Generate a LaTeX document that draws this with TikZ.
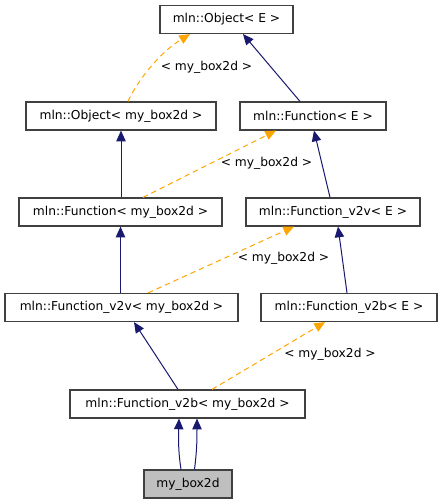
\documentclass[tikz,border=0pt]{standalone}
\usepackage{fontspec}
\setmainfont{DejaVu Sans}
\usetikzlibrary{arrows.meta,calc}
\definecolor{navy}{HTML}{191970}
\definecolor{dorange}{HTML}{FFA500}
\definecolor{boxline}{HTML}{404040}
\definecolor{boxfill}{HTML}{BFBFBF}
\begin{document}
\begin{tikzpicture}[x=0.75pt,y=-0.75pt,
  cls/.style={draw=boxline,line width=0.9pt,fill=white,inner sep=0pt,minimum height=21pt,font=\fontsize{9.2}{11}\selectfont},
  inh/.style={draw=navy,line width=0.75pt,-{Triangle[length=8pt,width=7pt]}},
  tmpl/.style={draw=dorange,line width=0.75pt,dash pattern=on 4pt off 3pt,-{Triangle[length=8pt,width=7pt]}},
  lbl/.style={font=\fontsize{9.2}{11}\selectfont,inner sep=0pt}]
\useasboundingbox[fill=white] (0,0) rectangle (443,504);
\node[cls,minimum width=99.75pt] (oE) at (226.5,19.5) {mln::Object< E >};
\node[cls,minimum width=142.5pt] (omy) at (121,116) {mln::Object< my\_box2d >};
\node[cls,minimum width=109.5pt] (fE) at (313,116) {mln::Function< E >};
\node[cls,minimum width=152.25pt] (fmy) at (120.5,212) {mln::Function< my\_box2d >};
\node[cls,minimum width=130.5pt] (fvE) at (333,212) {mln::Function\_v2v< E >};
\node[cls,minimum width=174.75pt] (fvmy) at (121.5,307.5) {mln::Function\_v2v< my\_box2d >};
\node[cls,minimum width=132pt] (fbE) at (349,307.5) {mln::Function\_v2b< E >};
\node[cls,minimum width=176.25pt] (fbmy) at (187.5,404) {mln::Function\_v2b< my\_box2d >};
\node[cls,fill=boxfill,minimum width=66pt] (my) at (188,484) {my\_box2d};
% blue inheritance
\draw[inh] ($(fE.north)+(-13,0)$) -- ($(oE.south)+(16.5,0)$);
\draw[inh] (fmy.north -| omy.south) -- (omy.south);
\draw[inh] ($(fvE.north)+(-3,0)$) -- ($(fE.south)+(1,0)$);
\draw[inh] (fvmy.north -| fmy.south) -- (fmy.south);
\draw[inh] ($(fbE.north)+(-2,0)$) -- ($(fvE.south)+(5,0)$);
\draw[inh] ($(fbmy.north)+(-9.5,0)$) -- ($(fvmy.south)+(12.5,0)$);
\draw[inh] ($(my.north)+(-7,0)$) .. controls ($(my.north)+(-10,-20)$) and ($(fbmy.south)+(-9,20)$) .. ($(fbmy.south)+(-8.5,0)$);
\draw[inh] ($(my.north)+(6.5,0)$) .. controls ($(my.north)+(9,-20)$) and ($(fbmy.south)+(9.5,20)$) .. ($(fbmy.south)+(9.5,0)$);
% orange template
\draw[tmpl] ($(omy.north)+(7,0)$) .. controls ($(omy.north)+(17,-22)$) and ($(oE.south)+(-66,18)$) .. ($(oE.south)+(-36.5,0)$);
\draw[tmpl] ($(fmy.north)+(22.5,0)$) -- ($(fE.south)+(-37,0)$);
\draw[tmpl] ($(fvmy.north)+(26.5,0)$) -- ($(fvE.south)+(-39,0)$);
\draw[tmpl] ($(fbmy.north)+(24.5,0)$) -- ($(fbE.south)+(-24,0)$);
% labels
\node[lbl] (l1) at (206.5,67) {< my\_box2d >};
\node[lbl] (l2) at (266.5,163) {< my\_box2d >};
\node[lbl] (l3) at (283.5,258) {< my\_box2d >};
\node[lbl] (l4) at (330,354) {< my\_box2d >};
\end{tikzpicture}
\end{document}
